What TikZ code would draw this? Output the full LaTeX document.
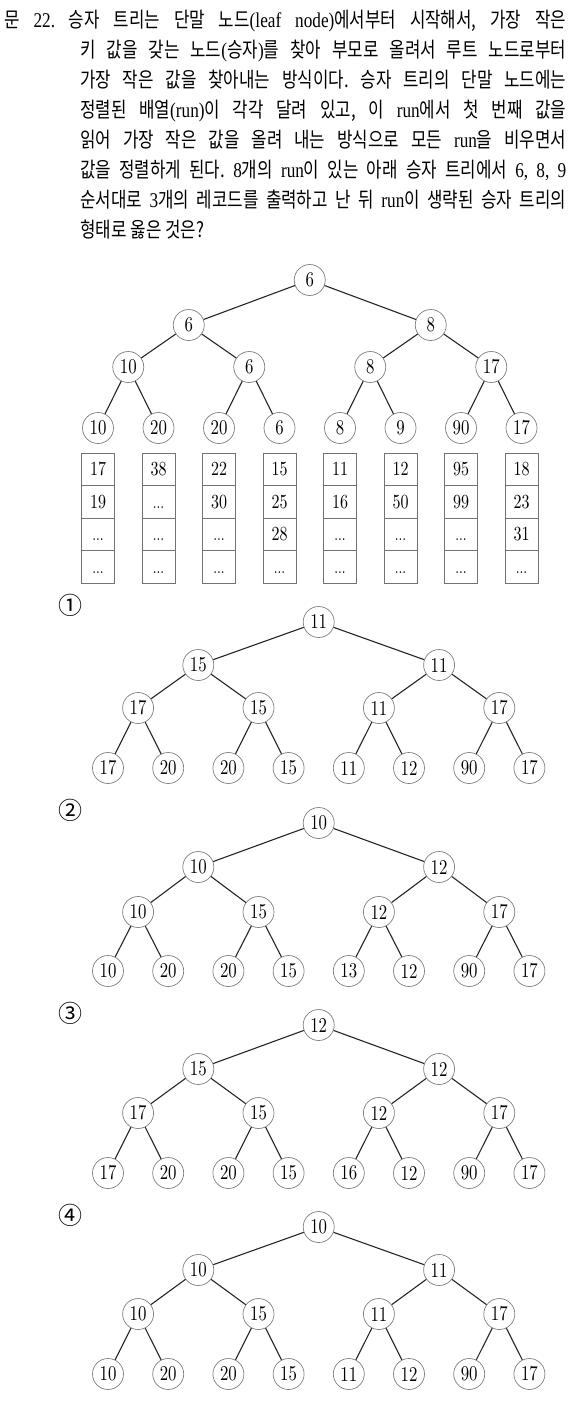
\documentclass[tikz,border=0pt]{standalone}
\usepackage{fontspec}
\setmainfont{Liberation Serif}[FakeStretch=0.82]
\newfontfamily\kr{Noto Sans CJK KR}[FakeStretch=0.8]
\newfontfamily\krc{Noto Sans CJK KR}
\newfontfamily\nd{lmroman10-regular.otf}[FakeStretch=0.8]
\newcommand\K[1]{{\kr #1}}
\newcommand\dts{\vphantom{0}{\fontsize{17}{17}\selectfont...}}
\newcommand\uniformspaces{\frenchspacing\spaceskip=4pt plus 10pt minus 1pt\relax}
\tikzset{
 wn/.style={circle, draw=black!50, line width=0.7pt, fill=white, minimum size=31pt, inner sep=0pt, font=\nd\fontsize{21}{21}\selectfont},
 we/.style={line width=1.1pt, draw=black!85},
 cell/.style={rectangle, draw=black!55, line width=0.7pt, minimum width=33pt, minimum height=32.5pt, inner sep=0pt, font=\nd\fontsize{20}{20}\selectfont},
 txt/.style={anchor=base west, inner sep=0pt, font=\fontsize{21}{30}\selectfont\uniformspaces},
 lab/.style={inner sep=0pt, font=\krc\fontsize{24}{24}\selectfont},
}
% #1 name, #2 x of first leaf, #3 leaf spacing, #4-#7 level y, #8 values (heap order)
\newcommand\wintree[8]{%
  \foreach \v [count=\i] in {#8} {
    \pgfmathtruncatemacro\L{(\i>=8)?3:((\i>=4)?2:((\i>=2)?1:0))}
    \pgfmathtruncatemacro\P{2^\L}
    \pgfmathsetmacro\xx{#2+((\i-\P)+0.5)*(8/\P)*#3-0.5*#3}
    \pgfmathsetmacro\yy{{#4,#5,#6,#7}[\L]}
    \node[wn] (#1-\i) at (\xx pt,-\yy pt) {\v};
  }
  \foreach \i in {2,...,15} {
    \pgfmathtruncatemacro\P{\i/2}
    \draw[we] (#1-\P) -- (#1-\i);
  }
}
% #1 column index, #2 x, #3-#6 cell contents
\newcommand\runcol[6]{%
  \node[cell] (r#1-1) at (#2pt,-469.25pt) {#3};
  \node[cell] (r#1-2) at (#2pt,-501.75pt) {#4};
  \node[cell] (r#1-3) at (#2pt,-534.25pt) {#5};
  \node[cell] (r#1-4) at (#2pt,-566.75pt) {#6};
}
\begin{document}
\begin{tikzpicture}
\useasboundingbox (0,0) rectangle (572pt,-1410pt);
\fill[white] (0,0) rectangle (572pt,-1410pt);

\node[txt] (l1) at (4pt,-27.7pt) {\makebox[562pt][s]{\K{문} 22. \K{승자 트리는 단말 노드}(leaf node)\K{에서부터 시작해서,} \K{가장 작은}}};
\node[txt] (l2) at (80pt,-57.7pt) {\makebox[486pt][s]{\K{키 값을 갖는 노드}(\K{승자})\K{를 찾아 부모로 올려서 루트 노드로부터}}};
\node[txt] (l3) at (80pt,-87.7pt) {\makebox[486pt][s]{\K{가장 작은 값을 찾아내는 방식이다. 승자 트리의 단말 노드에는}}};
\node[txt] (l4) at (80pt,-117.7pt) {\makebox[486pt][s]{\K{정렬된 배열}(run)\K{이 각각 달려 있고, 이} run\K{에서 첫 번째 값을}}};
\node[txt] (l5) at (80pt,-147.7pt) {\makebox[486pt][s]{\K{읽어 가장 작은 값을 올려 내는 방식으로 모든} run\K{을 비우면서}}};
\node[txt] (l6) at (80pt,-177.7pt) {\makebox[486pt][s]{\K{값을 정렬하게 된다.} 8\K{개의} run\K{이 있는 아래 승자 트리에서} 6, 8, 9}};
\node[txt] (l7) at (80pt,-207.7pt) {\makebox[486pt][s]{\K{순서대로} 3\K{개의 레코드를 출력하고 난 뒤} run\K{이 생략된 승자 트리의}}};
\node[txt] (l8) at (80pt,-237.7pt) {\K{형태로 옳은 것은?}};

\wintree{t0}{98}{60.5}{280}{325}{367}{428}{6,6,8,10,6,8,17,10,20,20,6,8,9,90,17}
\runcol{1}{98}{17}{19}{\dts}{\dts}
\runcol{2}{158.5}{38}{\dts}{\dts}{\dts}
\runcol{3}{219}{22}{30}{\dts}{\dts}
\runcol{4}{279.5}{15}{25}{28}{\dts}
\runcol{5}{340}{11}{16}{\dts}{\dts}
\runcol{6}{400.5}{12}{50}{\dts}{\dts}
\runcol{7}{461}{95}{99}{\dts}{\dts}
\runcol{8}{521.5}{18}{23}{31}{\dts}

\node[lab] (o1) at (70pt,-605pt) {①};
\wintree{t1}{108}{60.2}{622}{665}{708}{768}{11,15,11,17,15,11,17,17,20,20,15,11,12,90,17}
\node[lab] (o2) at (70pt,-810pt) {②};
\wintree{t2}{108}{60.2}{823}{867}{912}{971}{10,10,12,10,15,12,17,10,20,20,15,13,12,90,17}
\node[lab] (o3) at (70pt,-1013pt) {③};
\wintree{t3}{108}{60.2}{1025}{1069}{1113}{1173}{12,15,12,17,15,12,17,17,20,20,15,16,12,90,17}
\node[lab] (o4) at (70pt,-1215pt) {④};
\wintree{t4}{108}{60.2}{1227}{1270}{1314}{1374}{10,10,11,10,15,11,17,10,20,20,15,11,12,90,17}
\end{tikzpicture}
\end{document}
